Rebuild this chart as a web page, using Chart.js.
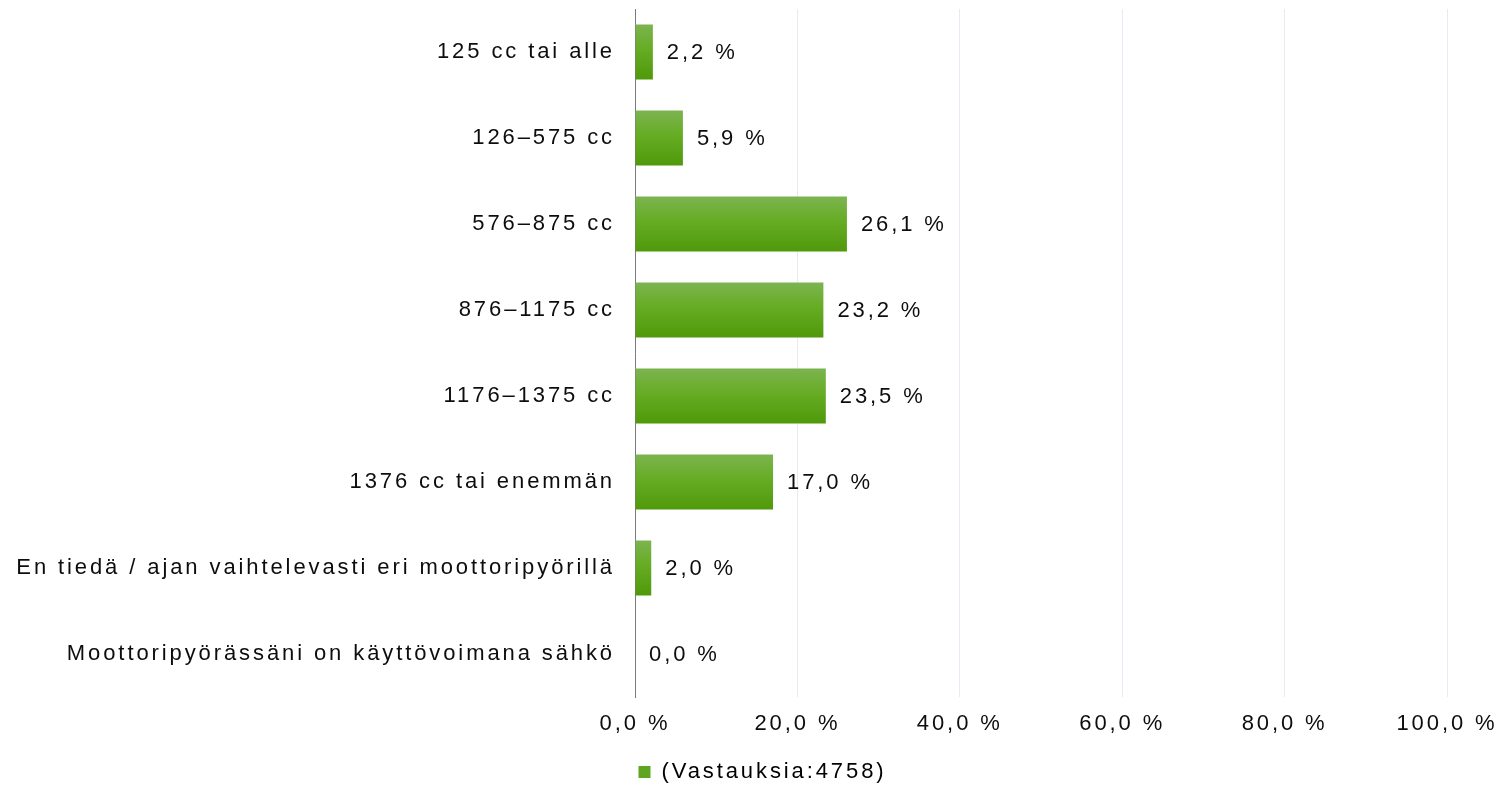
<!DOCTYPE html>
<html>
<head>
<meta charset="utf-8">
<script src="https://cdn.jsdelivr.net/npm/chart.js@4.4.1/dist/chart.umd.min.js"></script>
<style>
  html, body { margin: 0; padding: 0; background: #fff; }
  #wrap { width: 1503px; height: 787px; position: relative; }
</style>
</head>
<body>
<div id="wrap"><canvas id="c"></canvas></div>
<script>
const categories = [
  "125 cc tai alle",
  "126–575 cc",
  "576–875 cc",
  "876–1175 cc",
  "1176–1375 cc",
  "1376 cc tai enemmän",
  "En tiedä / ajan vaihtelevasti eri moottoripyörillä",
  "Moottoripyörässäni on käyttövoimana sähkö"
];
const values = [2.2, 5.9, 26.1, 23.2, 23.5, 17.0, 2.0, 0.0];
const seriesLabel = "(Vastauksia:4758)";
const xTicks = [0, 20, 40, 60, 80, 100];

const fmt = v => v.toFixed(1).replace('.', ',') + ' %';
const LS = '2.9px';
const FONT_FAMILY = '"Liberation Sans", Arial, sans-serif';
const FONT_SIZE = 22;
const TEXT = '#0d0d0d';

const spacingPlugin = {
  id: 'spacing',
  beforeUpdate(chart) { chart.ctx.letterSpacing = LS; },
  beforeLayout(chart) { chart.ctx.letterSpacing = LS; },
  afterLayout(chart) {
    if (chart.legend) {
      chart.legend.left += 22;
      chart.legend.top += 6;
      chart.legend.bottom += 6;
    }
  },
  beforeDraw(chart) { chart.ctx.letterSpacing = LS; }
};

function barFill(context) {
  const chart = context.chart;
  const ys = chart.scales && chart.scales.y;
  if (!ys || !chart.chartArea) return '#62a81f';
  const center = ys.getPixelForValue(context.dataIndex);
  const half = ys.height / categories.length * 0.64 / 2;
  const g = chart.ctx.createLinearGradient(0, center - half, 0, center + half);
  g.addColorStop(0, '#7cb450');
  g.addColorStop(0.45, '#66ac24');
  g.addColorStop(1, '#4f990a');
  return g;
}

const labelPlugin = {
  id: 'valueLabels',
  afterDatasetsDraw(chart) {
    const ctx = chart.ctx;
    const meta = chart.getDatasetMeta(0);
    ctx.save();
    ctx.letterSpacing = LS;
    ctx.font = FONT_SIZE + 'px ' + FONT_FAMILY;
    ctx.fillStyle = TEXT;
    ctx.textAlign = 'left';
    ctx.textBaseline = 'middle';
    meta.data.forEach((el, i) => {
      ctx.fillText(fmt(values[i]), el.x + 14, el.y + 1);
    });
    ctx.restore();
  }
};

new Chart(document.getElementById('c'), {
  type: 'bar',
  data: {
    labels: categories,
    datasets: [{
      label: seriesLabel,
      data: values,
      backgroundColor: barFill,
      borderWidth: 0,
      barPercentage: 0.8,
      categoryPercentage: 0.8
    }]
  },
  plugins: [spacingPlugin, labelPlugin],
  options: {
    indexAxis: 'y',
    responsive: true,
    maintainAspectRatio: false,
    animation: false,
    layout: { padding: { top: 9, right: 0, left: 0, bottom: 0 } },
    font: { family: FONT_FAMILY, size: FONT_SIZE },
    scales: {
      x: {
        min: 0, max: 100,
        afterBuildTicks(scale) { scale.ticks = xTicks.map(v => ({ value: v })); },
        afterFit(scale) { scale.height = 54; scale.paddingRight = 56; scale.paddingLeft = 0; },
        ticks: {
          callback: v => fmt(v),
          color: TEXT,
          padding: 14,
          maxRotation: 0,
          font: { family: FONT_FAMILY, size: FONT_SIZE }
        },
        grid: { color: '#e6ebf3', lineWidth: 1, drawTicks: false },
        border: { display: false }
      },
      y: {
        afterFit(scale) { scale.width = 635; scale.paddingTop = 0; scale.paddingBottom = 0; },
        ticks: {
          color: TEXT,
          padding: 20,
          font: { family: FONT_FAMILY, size: FONT_SIZE }
        },
        grid: { display: false, drawTicks: false },
        border: { display: true, color: '#7a7a7a', width: 1 }
      }
    },
    plugins: {
      legend: {
        position: 'bottom',
        labels: {
          boxWidth: 12,
          boxHeight: 12,
          padding: 4,
          color: TEXT,
          font: { family: FONT_FAMILY, size: FONT_SIZE },
          generateLabels(chart) {
            return [{
              text: seriesLabel,
              fillStyle: '#5fa620',
              strokeStyle: '#5fa620',
              lineWidth: 0,
              datasetIndex: 0
            }];
          }
        }
      },
      tooltip: { enabled: false }
    }
  }
});
</script>
</body>
</html>
